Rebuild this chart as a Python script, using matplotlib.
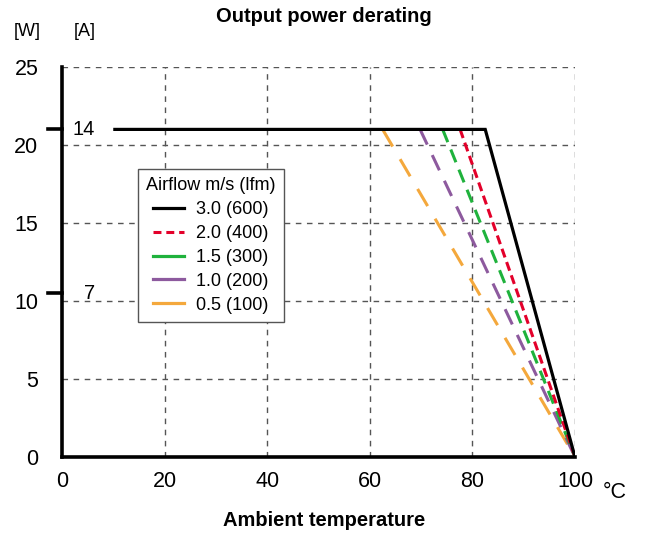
import matplotlib
matplotlib.use("Agg")
import matplotlib.pyplot as plt
from matplotlib.lines import Line2D

plt.rcParams['font.family'] = ['Liberation Sans', 'DejaVu Sans']

# Data (ambient temperature in °C, power in W)
max_power = 21.0
start_temp = 10.3
end_temp = 100.0
series_labels = ["3.0 (600)", "2.0 (400)", "1.5 (300)", "1.0 (200)", "0.5 (100)"]
knee_temps = [82.5, 77.6, 74.2, 69.8, 62.5]
colors = ["#000000", "#e3002a", "#1fb23c", "#8d5a9e", "#f4a83c"]
dashes = [None, (3.0, 1.6), (4.5, 2.6), (5.5, 3.8), (6.5, 4.8)]

x_ticks = [0, 20, 40, 60, 80, 100]
y_ticks = [0, 5, 10, 15, 20, 25]
amp_ticks = [14, 7]
amp_pos = [21.0, 10.5]

fig = plt.figure(figsize=(6.48, 5.39), dpi=100)
ax = fig.add_axes([62/648, (539-457)/539, (575-62)/648, (457-67)/539])
ax.set_xlim(0, 100)
ax.set_ylim(0, 25)

# grid
for xv in x_ticks[1:]:
    ax.plot([xv, xv], [0, 25], color="#555555", lw=1.0, ls=(0, (4, 4)), zorder=1)
for yv in y_ticks[1:]:
    ax.plot([0, 100], [yv, yv], color="#555555", lw=1.0, ls=(0, (4, 4)), zorder=1)

for i in range(len(series_labels)):
    if i == 0:
        xs = [start_temp, knee_temps[i], end_temp]
        ys = [max_power, max_power, 0]
    else:
        xs = [knee_temps[i], end_temp]
        ys = [max_power, 0]
    if dashes[i] is None:
        ax.plot(xs, ys, color=colors[i], lw=2.3, zorder=10 - i, solid_joinstyle='miter')
    else:
        ax.plot(xs, ys, color=colors[i], lw=2.2, zorder=10 - i, dashes=dashes[i])

# legend handles (long-dash series appear as solid short strokes in the legend)
handles = []
for i in range(len(series_labels)):
    if i == 1:
        handles.append(Line2D([], [], color=colors[i], lw=2.2, dashes=(2.6, 1.6)))
    else:
        handles.append(Line2D([], [], color=colors[i], lw=2.3))

for s in ["top", "right"]:
    ax.spines[s].set_visible(False)
ax.spines["left"].set_linewidth(2.6)
ax.spines["bottom"].set_linewidth(2.6)
ax.spines["left"].set_zorder(20)
ax.spines["bottom"].set_zorder(20)

ax.set_xticks(x_ticks)
ax.set_yticks(y_ticks)
ax.set_xticklabels([str(v) for v in x_ticks], fontsize=15.5)
ax.set_yticklabels([str(v) for v in y_ticks], fontsize=15.5)
ax.tick_params(axis='x', length=0, pad=10)
ax.tick_params(axis='y', length=0, pad=17)

# ampere marks
for a, p in zip(amp_ticks, amp_pos):
    ax.plot([-2.8, 0], [p, p], color="black", lw=2.6, clip_on=False, zorder=20)
    ax.text(6.5, p, str(a), fontsize=14.5, va='center', ha='right')

ax.text(-9.5, 26.7, "[W]", fontsize=13, ha='left', va='bottom')
ax.text(2.2, 26.7, "[A]", fontsize=13, ha='left', va='bottom')
ax.text(105.5, -1.6, "°C", fontsize=15.5, ha='left', va='top')

fig.text(0.5, 1 - 16/539, "Output power derating", fontsize=14.5, fontweight='bold', ha='center', va='center')
fig.text(0.5, 1 - 521/539, "Ambient temperature", fontsize=14.5, fontweight='bold', ha='center', va='center')

leg = ax.legend(handles, series_labels, title="Airflow m/s (lfm)", loc='upper left',
                bbox_to_anchor=(0.148, 0.738), fontsize=13, title_fontsize=13,
                frameon=True, fancybox=False, edgecolor="#555555", framealpha=1,
                handlelength=1.7, handletextpad=0.7, labelspacing=0.38, borderpad=0.45,
                borderaxespad=0)
leg.get_frame().set_linewidth(1.0)
leg.set_zorder(30)

fig.savefig("out.png", dpi=100)
